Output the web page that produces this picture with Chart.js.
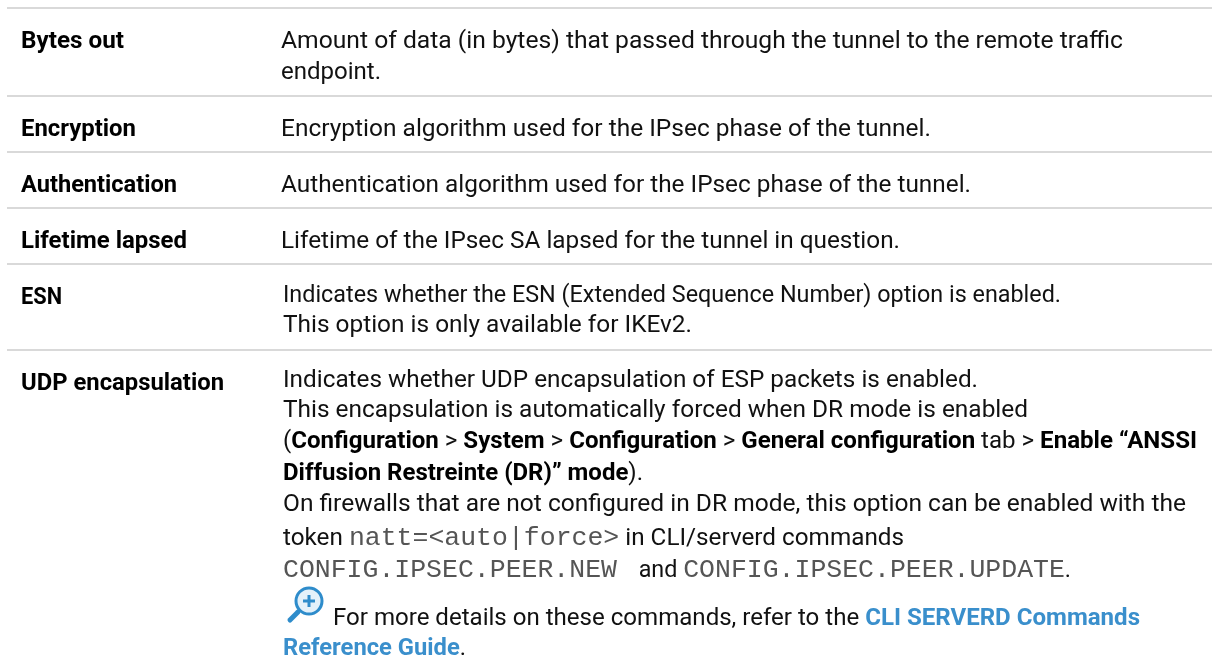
<!DOCTYPE html>
<html>
<head>
<meta charset="utf-8">
<style>
	html, body { margin: 0; padding: 0; background: #fff; }
	canvas { display: block; }
</style>
<script src="https://cdn.jsdelivr.net/npm/chart.js@4/dist/chart.umd.min.js"></script>
</head>
<body>
<canvas id="tableChart" width="1212" height="668"></canvas>
<script>
// table content: * bold, ` mono, _ link
var termLabels = ['Bytes out', 'Encryption', 'Authentication', 'Lifetime lapsed', 'ESN', 'UDP encapsulation'];
var descLines = [
	'Amount of data (in bytes) that passed through the tunnel to the remote traffic',
	'endpoint.',
	'Encryption algorithm used for the IPsec phase of the tunnel.',
	'Authentication algorithm used for the IPsec phase of the tunnel.',
	'Lifetime of the IPsec SA lapsed for the tunnel in question.',
	'Indicates whether the ESN (Extended Sequence Number) option is enabled.',
	'This option is only available for IKEv2.',
	'Indicates whether UDP encapsulation of ESP packets is enabled.',
	'This encapsulation is automatically forced when DR mode is enabled',
	'(*Configuration* > *System* > *Configuration* > *General configuration* tab > *Enable \u201cANSSI*',
	'*Diffusion Restreinte (DR)\u201d mode*).',
	'On firewalls that are not configured in DR mode, this option can be enabled with the',
	'token `natt=<auto|force>` in CLI/serverd commands',
	'`CONFIG.IPSEC.PEER.NEW ` and `CONFIG.IPSEC.PEER.UPDATE`.',
	'For more details on these commands, refer to the _CLI SERVERD Commands_',
	'_Reference Guide_.'
];

// layout, in page pixels
var ruleRows = [8, 96, 152, 208, 264, 350];
var termRows = [48, 136, 192, 248, 304, 390];
var termEnds = [124, 136, 177, 187, 62, 224];
var descRows = [48, 79, 136, 192, 248, 302, 332, 387, 417, 448, 480, 511, 545, 577, 625, 655];
var descStarts = [281, 281, 281, 281, 281, 283, 283, 283, 283, 283, 283, 283, 283, 283, 333, 283];
var descEnds = [1123, 381, 931, 971, 900, 1061, 692, 978, 1028, 1197, 643, 1186, 904, 1071, 1140, 466];
var iconSpot = { x: 309, y: 601 };

var TEXT_X0 = 7;
var fonts = {
	r: '400 24px Roboto',
	b: '700 24px Roboto',
	l: '700 24px Roboto',
	m: '400 26.5px "Liberation Mono"'
};
var colors = { r: '#111', b: '#000', l: '#3a8fcc', m: '#555' };

function parseSpans(line) {
	var spans = [];
	line.split(/([*`_])/).reduce(function (kind, part) {
		if (part === '*') return kind === 'b' ? 'r' : 'b';
		if (part === '`') return kind === 'm' ? 'r' : 'm';
		if (part === '_') return kind === 'l' ? 'r' : 'l';
		if (part) spans.push({ kind: kind, text: part });
		return kind;
	}, 'r');
	return spans;
}

// proportional text is squeezed so each line ends where it should, mono is left alone
function drawLine(ctx, spans, x0, x1, y) {
	var prop = 0, fixed = 0;
	spans.forEach(function (s) {
		ctx.font = fonts[s.kind];
		s.w = ctx.measureText(s.text).width;
		if (s.kind === 'm') fixed += s.w; else prop += s.w;
	});
	var k = (x1 - x0 - fixed) / prop, x = x0;
	spans.forEach(function (s) {
		ctx.font = fonts[s.kind];
		ctx.fillStyle = colors[s.kind];
		ctx.save();
		ctx.translate(x, y);
		if (s.kind !== 'm') ctx.scale(k, 1);
		ctx.fillText(s.text, 0, 0);
		ctx.restore();
		x += s.kind === 'm' ? s.w : s.w * k;
	});
}

function drawIcon(ctx, cx, cy) {
	ctx.save();
	ctx.strokeStyle = '#2e8ccb';
	ctx.fillStyle = '#e4f1fa';
	ctx.lineWidth = 3;
	ctx.beginPath();
	ctx.arc(cx, cy, 13, 0, Math.PI * 2);
	ctx.fill();
	ctx.stroke();
	ctx.lineWidth = 5;
	ctx.lineCap = 'round';
	ctx.beginPath();
	ctx.moveTo(cx - 11, cy + 11);
	ctx.lineTo(cx - 19, cy + 19);
	ctx.stroke();
	ctx.lineWidth = 3;
	ctx.lineCap = 'butt';
	ctx.beginPath();
	ctx.moveTo(cx - 6, cy);
	ctx.lineTo(cx + 6, cy);
	ctx.moveTo(cx, cy - 6);
	ctx.lineTo(cx, cy + 6);
	ctx.stroke();
	ctx.restore();
}

var tablePlugin = {
	id: 'tableText',
	afterDraw: function (chart) {
		var ctx = chart.ctx, sx = chart.scales.x, sy = chart.scales.y;
		ctx.save();
		ctx.textBaseline = 'alphabetic';
		termLabels.forEach(function (t, i) {
			drawLine(ctx, [{ kind: 'b', text: t }], sx.getPixelForValue(21), sx.getPixelForValue(termEnds[i]), sy.getPixelForValue(termRows[i]));
		});
		descLines.forEach(function (line, i) {
			drawLine(ctx, parseSpans(line), sx.getPixelForValue(descStarts[i]), sx.getPixelForValue(descEnds[i]), sy.getPixelForValue(descRows[i]));
		});
		drawIcon(ctx, sx.getPixelForValue(iconSpot.x), sy.getPixelForValue(iconSpot.y));
		ctx.restore();
	}
};

new Chart(document.getElementById('tableChart'), {
	type: 'scatter',
	data: { datasets: [{ data: [], pointRadius: 0 }] },
	plugins: [tablePlugin],
	options: {
		responsive: false,
		animation: false,
		layout: { padding: { left: TEXT_X0 } },
		plugins: { legend: { display: false }, tooltip: { enabled: false } },
		scales: {
			x: { min: TEXT_X0, max: 1212, display: false },
			y: {
				min: 0,
				max: 668,
				reverse: true,
				afterBuildTicks: function (scale) {
					scale.ticks = ruleRows.map(function (v) { return { value: v }; });
				},
				ticks: { display: false },
				border: { display: false },
				grid: { color: '#d9d9d9', lineWidth: 2, drawTicks: false }
			}
		}
	}
});
</script>
</body>
</html>
